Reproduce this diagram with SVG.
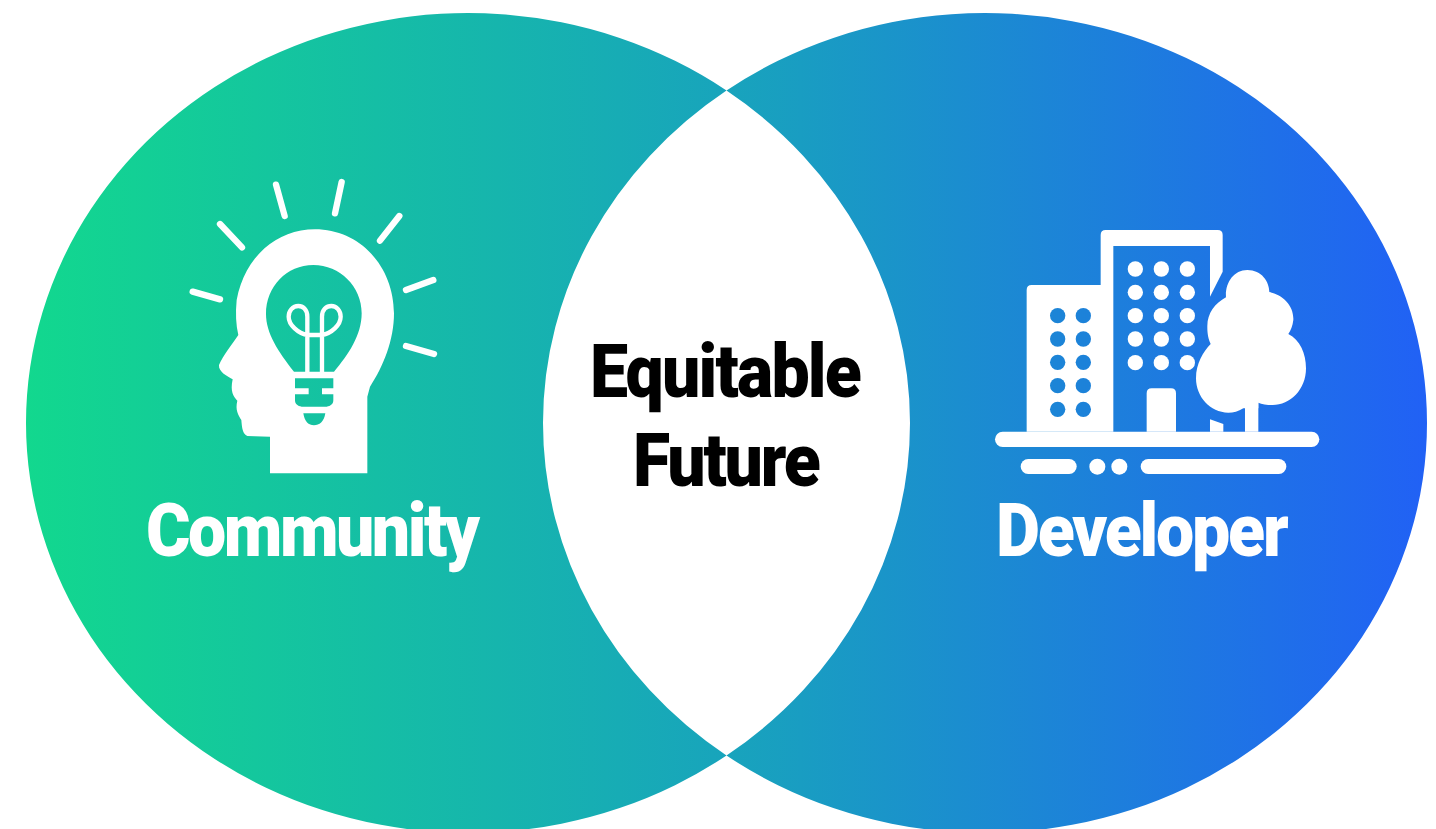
<svg xmlns="http://www.w3.org/2000/svg" width="1436" height="829" viewBox="0 0 1436 829">
<style>
.t{font-family:Roboto,"Liberation Sans",sans-serif;font-weight:900;font-size:68px}
.b{fill:#000}
.s{fill:#fff}
.w{fill:#fff}
.ray{stroke:#fff;stroke-width:19;stroke-linecap:round;fill:none}
.fil{stroke:#fff;stroke-width:13;fill:none}
</style>
<defs>
<linearGradient id="g" gradientUnits="userSpaceOnUse" x1="26" y1="0" x2="1427" y2="0">
<stop offset="0" stop-color="#12D88E"/>
<stop offset="0.5" stop-color="#18A4BC"/>
<stop offset="1" stop-color="#2161F5"/>
</linearGradient>
<linearGradient id="gb" href="#g" gradientTransform="scale(3) translate(-980,-220)"/>
<filter id="soft" x="-5%" y="-5%" width="110%" height="110%"><feGaussianBlur stdDeviation="0.6"/></filter>
</defs>
<rect width="1436" height="829" fill="#fff"/>
<path id="venn" fill="url(#g)" fill-rule="evenodd" d="M26 423A442 410 0 0 1 726.5 90.5A442 410 0 0 1 1427 423A442 410 0 0 1 726.5 755.5A442 410 0 0 1 26 423ZM726.5 90.5A442 410 0 0 1 910 423A442 410 0 0 1 726.5 755.5A442 410 0 0 1 543 423A442 410 0 0 1 726.5 90.5Z"/>
<g id="community" filter="url(#soft)">
<g transform="translate(170,170) scale(0.33333)">
<path class="w" fill-rule="evenodd" d="M300 910V800L232 798C218 792 216 775 214 750C205 735 195 720 202 692C190 680 180 665 188 628C170 618 145 605 147 585C160 555 185 525 205 495C198 465 196 430 200 390C225 260 320 178 435 178C570 178 672 290 672 430C672 510 640 590 600 650L592 680V910ZM430 285C350 285 288 350 288 432C288 490 325 545 372 605H492C535 555 575 495 575 430C575 350 510 285 430 285ZM375 625H490V690C490 702 482 708 470 710H395C383 708 375 702 375 690ZM400 730H466C462 755 448 766 432 766C416 766 404 755 400 730Z"/>
<path class="fil" d="M412 606V440C412 418 398 408 385 408C368 408 356 422 356 440C356 465 385 490 412 495H456C484 490 512 465 512 440C512 422 500 408 484 408C470 408 456 418 456 440V606"/>
<path class="w" d="M372 655H416V673H372ZM456 655H494V673H456Z"/>
<path class="ray" d="M318 44L344 138M515 36L495 130M688 138L630 212M790 330L708 360M708 528L792 552M150 162L216 232M68 365L150 388"/>
</g>
<text class="t s" transform="translate(146,556) scale(1,1.1)" letter-spacing="-2.5">Community</text>
</g>
<g id="future" filter="url(#soft)">
<text class="t b" transform="translate(590,397) scale(1,1.1)" letter-spacing="-1.8">Equitable</text>
<text class="t b" transform="translate(633,486) scale(1,1.1)" letter-spacing="-2.2">Future</text>
</g>
<g id="developer" filter="url(#soft)">
<g transform="translate(980,220) scale(0.33333)">
<path class="w" d="M140 635V210Q140 195 155 195H362V45Q362 30 377 30H713Q728 30 728 45V155L690 230V78H400V635Z"/>
<path class="w" d="M500 635V520Q500 505 515 505H573Q588 505 588 520V635ZM690 635V598L730 612V635ZM795 635V540H835V635Z"/>
<rect class="w" x="45" y="635" width="973" height="46" rx="23"/>
<rect class="w" x="122" y="717" width="168" height="45" rx="22.5"/>
<circle class="w" cx="352" cy="740" r="24"/><circle class="w" cx="418" cy="740" r="24"/>
<rect class="w" x="482" y="717" width="437" height="45" rx="22.5"/>
<g fill="url(#gb)">
<circle cx="233" cy="287" r="23"/><circle cx="310" cy="287" r="23"/>
<circle cx="233" cy="357" r="23"/><circle cx="310" cy="357" r="23"/>
<circle cx="233" cy="427" r="23"/><circle cx="310" cy="427" r="23"/>
<circle cx="233" cy="497" r="23"/><circle cx="310" cy="497" r="23"/>
<circle cx="233" cy="568" r="23"/><circle cx="310" cy="568" r="23"/>
</g>
<g class="w">
<circle cx="466" cy="147" r="23"/><circle cx="544" cy="147" r="23"/><circle cx="622" cy="147" r="23"/>
<circle cx="466" cy="217" r="23"/><circle cx="544" cy="217" r="23"/><circle cx="622" cy="217" r="23"/>
<circle cx="466" cy="287" r="23"/><circle cx="544" cy="287" r="23"/><circle cx="622" cy="287" r="23"/>
<circle cx="466" cy="357" r="23"/><circle cx="544" cy="357" r="23"/><circle cx="622" cy="357" r="23"/>
<circle cx="466" cy="428" r="23"/><circle cx="544" cy="428" r="23"/><circle cx="622" cy="428" r="23"/>
</g>
<path class="w" d="M802 150C845 150 868 185 868 216C910 225 942 258 940 300C938 318 932 332 925 342C960 360 978 400 978 445C978 510 930 555 878 555C860 555 845 552 835 548V565L790 565C775 575 760 578 745 578C690 578 648 530 648 475C648 430 670 395 692 372C682 350 682 330 682 318C682 280 705 250 738 232C735 190 760 150 802 150Z"/>
</g>
<text class="t s" transform="translate(996,556) scale(1,1.1)" letter-spacing="-2.2">Developer</text>
</g>
</svg>
